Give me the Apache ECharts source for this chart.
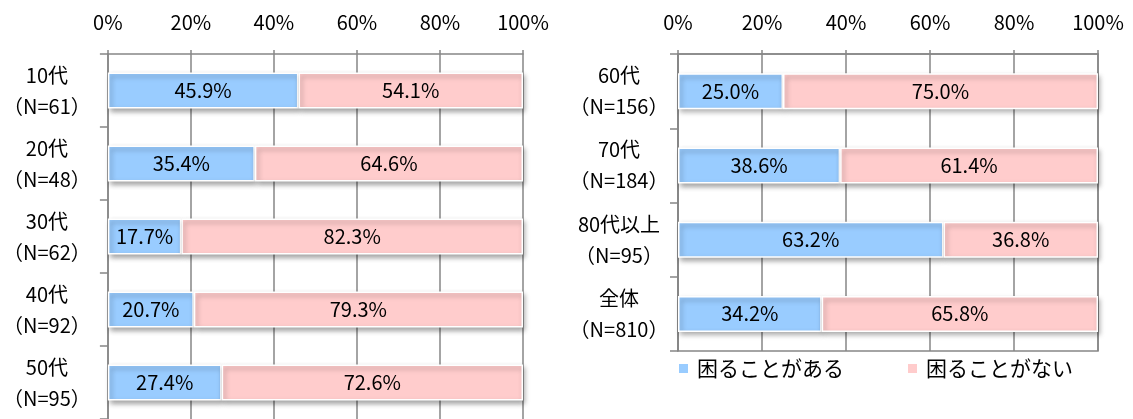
<!DOCTYPE html>
<html>
<head>
<meta charset="utf-8">
<script src="https://cdn.jsdelivr.net/npm/echarts@6/dist/echarts.min.js"></script>
<style>
  html, body { margin: 0; padding: 0; background: #fff; }
  #chart { width: 1133px; height: 419px; }
</style>
</head>
<body>
<div id="chart"></div>
<script>
// データ
var leftAges = ['10代', '20代', '30代', '40代', '50代'];
var leftN = [61, 48, 62, 92, 95];
var leftYes = [45.9, 35.4, 17.7, 20.7, 27.4];
var leftNo = [54.1, 64.6, 82.3, 79.3, 72.6];

var rightAges = ['60代', '70代', '80代以上', '全体'];
var rightN = [156, 184, 95, 810];
var rightYes = [25.0, 38.6, 63.2, 34.2];
var rightNo = [75.0, 61.4, 36.8, 65.8];

var seriesNames = ['困ることがある', '困ることがない'];
var colors = ['#99ccff', '#ffcccc'];

var FONT = '"Noto Sans CJK JP", "Noto Sans", sans-serif';
var axisGray = '#868686';

var chart = echarts.init(document.getElementById('chart'));

function catLabels(ages, ns) {
    return ages.map(function (a, i) { return a + '\n（N=' + ns[i] + '）'; });
}

function xAxisOf(gridIndex) {
    return {
        gridIndex: gridIndex,
        type: 'value',
        position: 'top',
        min: 0, max: 100, interval: 20,
        axisLine: { show: true, lineStyle: { color: axisGray, width: 1.5 } },
        axisTick: { show: true, length: 4, lineStyle: { color: axisGray, width: 1.5 } },
        splitLine: { show: true, lineStyle: { color: axisGray, width: 1.5 } },
        axisLabel: { formatter: '{value}%', color: '#000', fontSize: 20, fontFamily: FONT, margin: 22 }
    };
}

function yAxisOf(gridIndex, labels, margin) {
    return {
        gridIndex: gridIndex,
        type: 'category',
        inverse: true,
        data: labels,
        axisLine: { show: true, lineStyle: { color: axisGray, width: 1.5 } },
        axisTick: { show: true, length: 8, lineStyle: { color: axisGray, width: 1.5 } },
        axisLabel: {
            color: '#000', fontSize: 20, fontFamily: FONT, lineHeight: 31,
            align: 'center', margin: margin
        }
    };
}

function barSeries(name, data, idx, colorIdx) {
    return {
        name: name,
        type: 'bar',
        stack: 'g' + idx,
        xAxisIndex: idx,
        yAxisIndex: idx,
        barWidth: 36,
        data: data,
        itemStyle: {
            color: colors[colorIdx],
            borderColor: '#fff',
            borderWidth: 1.5,
            shadowColor: 'rgba(0,0,0,0.35)',
            shadowBlur: 5,
            shadowOffsetX: 2,
            shadowOffsetY: 3
        },
        label: {
            show: true,
            position: 'inside',
            color: '#000',
            fontSize: 20,
            fontFamily: FONT,
            formatter: function (p) { return p.value.toFixed(1) + '%'; }
        }
    };
}

chart.setOption({
    animation: false,
    backgroundColor: '#fff',
    legend: {
        data: seriesNames,
        left: 677,
        top: 358,
        padding: 0,
        icon: 'rect',
        itemWidth: 11,
        itemHeight: 11,
        itemGap: 62,
        textStyle: { fontSize: 21, color: '#000', fontFamily: FONT, padding: [0, 0, 0, 3] }
    },
    grid: [
        { left: 105, top: 54, width: 418, height: 371.25, containLabel: false },
        { left: 678, top: 54, width: 420, height: 297, containLabel: false,
          show: true, borderColor: axisGray, borderWidth: 1.5 }
    ],
    xAxis: [xAxisOf(0), xAxisOf(1)],
    yAxis: [yAxisOf(0, catLabels(leftAges, leftN), 61), yAxisOf(1, catLabels(rightAges, rightN), 59)],
    series: [
        barSeries(seriesNames[0], leftYes, 0, 0),
        barSeries(seriesNames[1], leftNo, 0, 1),
        barSeries(seriesNames[0], rightYes, 1, 0),
        barSeries(seriesNames[1], rightNo, 1, 1)
    ]
});
</script>
</body>
</html>
